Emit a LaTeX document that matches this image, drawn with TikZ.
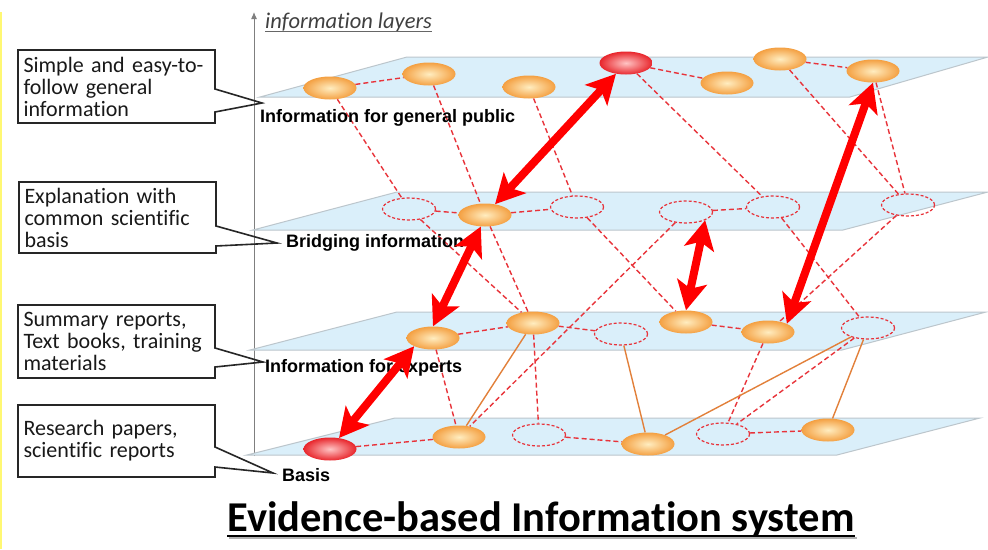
\documentclass[tikz,border=0pt]{standalone}
\usepackage{fontspec}
\setmainfont{Carlito}[RawFeature={-liga}]
\newfontfamily\labelfont{Liberation Sans}
\usetikzlibrary{arrows.meta,shapes.geometric}

\definecolor{planeblue}{HTML}{DAEFFA}
\definecolor{planeedge}{HTML}{BCC6CC}
\definecolor{docouter}{HTML}{F4A042}
\definecolor{docinner}{HTML}{FFEDC0}
\definecolor{keyouter}{HTML}{E8262C}
\definecolor{keyinner}{HTML}{FFC4C4}
\definecolor{linkred}{HTML}{E8333A}
\definecolor{citeorange}{HTML}{E2803A}
\definecolor{flowred}{HTML}{FF0000}
\definecolor{axisgray}{HTML}{7F7F7F}

\tikzset{
  layerplane/.style={fill=planeblue, draw=planeedge, line width=1pt},
  docnode/.style={ellipse, minimum width=53pt, minimum height=23pt, inner sep=0pt, inner color=docinner, outer color=docouter},
  keydoc/.style={docnode, inner color=keyinner, outer color=keyouter},
  gapdoc/.style={ellipse, minimum width=53pt, minimum height=22pt, inner sep=0pt, draw=linkred, line width=1.2pt, dash pattern=on 3pt off 2pt},
  linkline/.style={draw=linkred, line width=1.4pt, dash pattern=on 5pt off 3pt},
  citeline/.style={draw=citeorange, line width=1.4pt},
  flowarrow/.style={draw=flowred, line width=8pt, {Stealth[length=29pt,width=30pt,inset=7pt]}-{Stealth[length=29pt,width=30pt,inset=7pt]}},
  layername/.style={font=\labelfont\bfseries\fontsize{18}{20}\selectfont, anchor=base west, inner sep=0pt},
  notebox/.style={anchor=north west, minimum width=197pt, text width=186pt, inner xsep=5.5pt, outer sep=0pt, align=left, font=\fontsize{22}{22}\selectfont, text=black!90},
  noteline/.style={draw=black!85, line width=1.6pt, line join=miter},
}

\begin{document}
\begin{tikzpicture}[x=1pt,y=-1pt]
\useasboundingbox (0,0) rectangle (988,549);
\fill[white] (0,0) rectangle (988,549);
\fill[yellow!55] (0,12) rectangle (1.5,549);

% Axis
\coordinate (axisfoot) at (254,456);
\coordinate (axistop) at (254,12);
\draw[axisgray, line width=1pt, -{Latex[length=7pt,width=6pt]}] (axisfoot) -- (axistop);
\node[anchor=base west, inner sep=0pt, font=\itshape\fontsize{22.5}{22}\selectfont, text=black!75] (axislabel) at (265,28) {information layers};
\draw[black!60, line width=0.8pt] ([yshift=-3pt]axislabel.base west) -- ([yshift=-3pt]axislabel.base east);

% Layers
\filldraw[layerplane] (260,97) -- (850,97) -- (988,57) -- (407,57) -- cycle;
\filldraw[layerplane] (253,230) -- (843,230) -- (988,192) -- (397,192) -- cycle;
\filldraw[layerplane] (250,350) -- (842,350) -- (986,312) -- (397,312) -- cycle;
\filldraw[layerplane] (247,455) -- (837,455) -- (980,418) -- (395,418) -- cycle;

% Information for general public
\node[docnode] (pub1) at (330,88) {};
\node[docnode] (pub2) at (429,74) {};
\node[docnode] (pub3) at (529,87) {};
\node[keydoc] (pub4) at (626,63) {};
\node[docnode] (pub5) at (727,83) {};
\node[docnode] (pub6) at (780,59) {};
\node[docnode] (pub7) at (873,71) {};

% Bridging information
\node[gapdoc] (bri1) at (409,209) {};
\node[docnode] (bri2) at (485,215) {};
\node[gapdoc] (bri3) at (577,207) {};
\node[gapdoc] (bri4) at (686,212) {};
\node[gapdoc] (bri5) at (773,207) {};
\node[gapdoc] (bri6) at (908,205) {};

% Information for experts
\node[docnode] (exp1) at (433,338) {};
\node[docnode] (exp2) at (533,323) {};
\node[gapdoc] (exp3) at (621,334) {};
\node[docnode] (exp4) at (686,322) {};
\node[docnode] (exp5) at (768,332) {};
\node[gapdoc] (exp6) at (868,328) {};

% Basis
\node[keydoc] (bas1) at (330,449) {};
\node[docnode] (bas2) at (459,437) {};
\node[gapdoc] (bas3) at (539,435) {};
\node[docnode] (bas4) at (648,444) {};
\node[gapdoc] (bas5) at (723,434) {};
\node[docnode] (bas6) at (828,430) {};

% Links within layers
\draw[linkline] (pub1) -- (pub2) (pub4) -- (pub5) (pub6) -- (pub7);
\draw[linkline] (bri1) -- (bri2) (bri2) -- (bri3) (bri4) -- (bri5);
\draw[linkline] (exp1) -- (exp2) (exp2) -- (exp3) (exp4) -- (exp5);
\draw[linkline] (bas1) -- (bas2) (bas3) -- (bas4) (bas5) -- (bas6);

% Links between layers
\draw[linkline] (pub1) -- (bri1) (pub2) -- (bri2) (pub3) -- (bri3);
\draw[linkline] (pub4) -- (bri5) (pub6) -- (bri6) (pub7) -- (bri6);
\draw[linkline] (bri1) -- (exp2) (bri2) -- (exp2) (bri3) -- (exp4);
\draw[linkline] (bri4) -- (bas2) (bri5) -- (exp6) (bri6) -- (exp5);
\draw[linkline] (exp1) -- (bas2) (exp2) -- (bas3) (exp5) -- (bas5) (exp6) -- (bas5);
\draw[citeline] (exp2) -- (bas2) (exp3) -- (bas4) (bas4) -- (exp6) (exp6) -- (bas6);

% Layer names
\node[layername] (publabel) at (260,122) {Information for general public};
\node[layername] (brilabel) at (286,247) {Bridging information};
\node[layername] (explabel) at (265,372) {Information for experts};
\node[layername] (baslabel) at (282,481) {Basis};

% Notes
\node[notebox, minimum height=73pt] (pubnote) at (18,50) {Simple and easy-to-\\follow general\\information};
\coordinate (pubtip) at (262,103);
\draw[noteline] (pubnote.north west) -- (pubnote.north east) -- (pubnote.east |- 0,89) -- (pubtip) -- (pubnote.east |- 0,112) -- (pubnote.south east) -- (pubnote.south west) -- cycle;

\node[notebox, minimum height=71pt] (brinote) at (19,182) {Explanation with\\common scientific\\basis};
\coordinate (britip) at (277,243);
\draw[noteline] (brinote.north west) -- (brinote.north east) -- (brinote.east |- 0,226) -- (britip) -- (brinote.east |- 0,246) -- (brinote.south east) -- (brinote.south west) -- cycle;

\node[notebox, minimum height=73pt] (expnote) at (18,305) {Summary reports,\\Text books, training\\materials};
\coordinate (exptip) at (263,362);
\draw[noteline] (expnote.north west) -- (expnote.north east) -- (expnote.east |- 0,348) -- (exptip) -- (expnote.east |- 0,367) -- (expnote.south east) -- (expnote.south west) -- cycle;

\node[notebox, minimum height=72pt] (basnote) at (18,405) {Research papers,\\scientific reports};
\coordinate (bastip) at (273,473);
\draw[noteline] (basnote.north west) -- (basnote.north east) -- (basnote.east |- 0,447) -- (bastip) -- (basnote.east |- 0,467) -- (basnote.south east) -- (basnote.south west) -- cycle;

% Flows between layers
\draw[flowarrow] (bas1) -- (exp1.south west);
\draw[flowarrow] (exp1.north) -- (bri2.250);
\draw[flowarrow] (bri2) -- (pub4);
\draw[flowarrow] (bri4.south east) -- (exp4.north);
\draw[flowarrow] (pub7.south) -- (exp5.north east);

% Title
\node[anchor=base, inner sep=0pt, font=\bfseries\fontsize{42.5}{46}\selectfont] (title) at (541,531) {Evidence-based Information system};
\draw[black!30, line width=2.6pt] ([xshift=2pt,yshift=-7pt]title.base west) -- ([xshift=2pt,yshift=-7pt]title.base east);
\draw[black, line width=2.6pt] ([yshift=-5pt]title.base west) -- ([yshift=-5pt]title.base east);
\end{tikzpicture}
\end{document}
